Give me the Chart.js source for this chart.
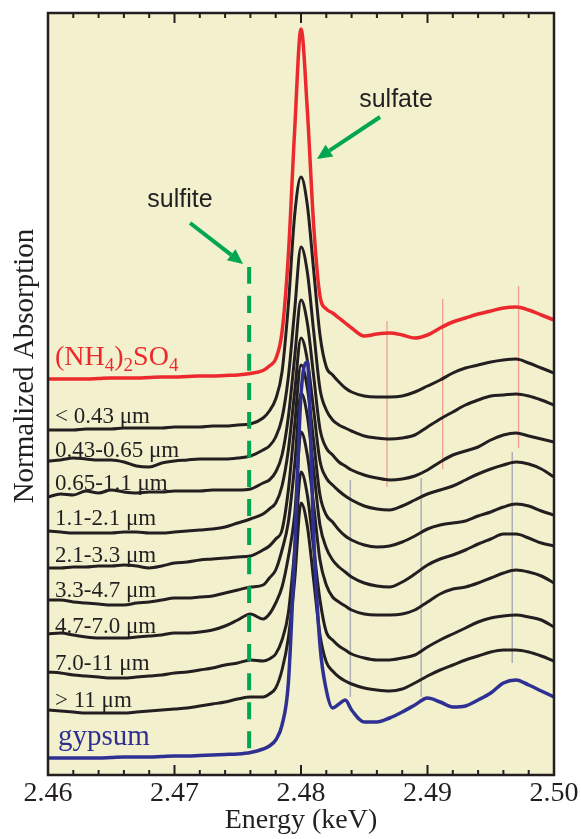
<!DOCTYPE html>
<html>
<head>
<meta charset="utf-8">
<title>Sulfur XANES by particle size</title>
<script src="https://cdn.jsdelivr.net/npm/chart.js@4.4.0/dist/chart.umd.min.js"></script>
<style>
  html, body { margin: 0; padding: 0; background: #fff; }
  canvas { display: block; }
</style>
</head>
<body>
<canvas id="chart" width="581" height="839"></canvas>
<script>
// energy grid (keV), denser around the white line
var energy = [2.460, 2.461, 2.462, 2.463, 2.464, 2.465, 2.466, 2.467, 2.468, 2.469,
  2.470, 2.471, 2.472, 2.473, 2.474, 2.475, 2.476, 2.477, 2.4775, 2.478,
  2.4785, 2.479, 2.4795, 2.480, 2.4805, 2.481, 2.4815, 2.482, 2.4825, 2.483,
  2.4835, 2.484, 2.485, 2.486, 2.487, 2.488, 2.489, 2.490, 2.491, 2.492,
  2.493, 2.494, 2.495, 2.496, 2.497, 2.498, 2.499, 2.500];

// normalized absorption, stacked with offsets (a.u.)
var ammSulfate = [3.96, 3.96, 3.96, 3.96, 3.965, 3.97, 3.97, 3.97, 3.975, 3.98,
  3.98, 3.985, 3.99, 3.99, 3.995, 4.00, 4.015, 4.045, 4.09, 4.16,
  4.43, 5.20, 6.45, 7.46, 6.65, 5.50, 4.79, 4.66, 4.62, 4.57,
  4.52, 4.47, 4.39, 4.41, 4.42, 4.40, 4.37, 4.40, 4.47, 4.53,
  4.57, 4.61, 4.64, 4.67, 4.68, 4.65, 4.60, 4.55];
var s043 = [3.45, 3.45, 3.45, 3.46, 3.46, 3.46, 3.47, 3.47, 3.47, 3.47,
  3.48, 3.48, 3.48, 3.49, 3.49, 3.50, 3.51, 3.57, 3.64, 3.76,
  4.03, 4.70, 5.60, 5.98, 5.70, 5.05, 4.40, 4.08, 4.00, 3.93,
  3.87, 3.83, 3.79, 3.78, 3.78, 3.79, 3.83, 3.89, 3.95, 4.02,
  4.07, 4.10, 4.13, 4.15, 4.16, 4.12, 4.07, 4.02];
var s043065 = [3.14, 3.15, 3.17, 3.16, 3.15, 3.15, 3.13, 3.09, 3.08, 3.12,
  3.14, 3.15, 3.16, 3.16, 3.16, 3.17, 3.19, 3.25, 3.29, 3.38,
  3.57, 3.98, 4.65, 5.28, 5.03, 4.44, 3.86, 3.65, 3.55, 3.50,
  3.47, 3.44, 3.39, 3.37, 3.36, 3.37, 3.40, 3.48, 3.56, 3.63,
  3.70, 3.75, 3.79, 3.80, 3.81, 3.79, 3.75, 3.70];
var s06511 = [2.78, 2.81, 2.80, 2.84, 2.82, 2.85, 2.83, 2.82, 2.83, 2.83,
  2.84, 2.84, 2.84, 2.85, 2.85, 2.85, 2.86, 2.92, 2.95, 3.03,
  3.20, 3.58, 4.18, 4.75, 4.52, 3.99, 3.46, 3.27, 3.20, 3.13,
  3.09, 3.05, 3.00, 2.97, 2.95, 2.96, 2.99, 3.05, 3.13, 3.20,
  3.24, 3.28, 3.35, 3.40, 3.42, 3.39, 3.36, 3.33];
var s1121 = [2.44, 2.43, 2.42, 2.42, 2.42, 2.42, 2.43, 2.43, 2.42, 2.42,
  2.43, 2.44, 2.45, 2.46, 2.48, 2.52, 2.56, 2.61, 2.66, 2.72,
  2.89, 3.25, 3.83, 4.37, 4.15, 3.65, 3.14, 2.97, 2.90, 2.84,
  2.79, 2.75, 2.69, 2.66, 2.65, 2.69, 2.75, 2.81, 2.85, 2.89,
  2.95, 3.01, 3.06, 3.10, 3.13, 3.11, 3.06, 2.98];
var s2133 = [2.07, 2.07, 2.08, 2.08, 2.09, 2.09, 2.10, 2.09, 2.07, 2.09,
  2.12, 2.13, 2.15, 2.16, 2.17, 2.18, 2.19, 2.25, 2.29, 2.36,
  2.45, 2.85, 3.50, 4.10, 3.87, 3.34, 2.80, 2.60, 2.53, 2.45,
  2.39, 2.35, 2.30, 2.28, 2.29, 2.33, 2.39, 2.46, 2.50, 2.52,
  2.54, 2.59, 2.63, 2.68, 2.71, 2.69, 2.64, 2.60];
var s3347 = [1.75, 1.75, 1.73, 1.72, 1.71, 1.70, 1.70, 1.72, 1.73, 1.75,
  1.77, 1.77, 1.78, 1.79, 1.82, 1.85, 1.88, 1.90, 1.97, 2.05,
  2.25, 2.53, 3.10, 3.82, 3.59, 3.05, 2.50, 2.27, 2.15, 2.08,
  2.03, 1.98, 1.92, 1.89, 1.88, 1.93, 2.01, 2.10, 2.16, 2.20,
  2.25, 2.31, 2.36, 2.41, 2.41, 2.37, 2.32, 2.29];
var s4770 = [1.41, 1.42, 1.40, 1.38, 1.37, 1.37, 1.37, 1.38, 1.39, 1.40,
  1.42, 1.42, 1.43, 1.45, 1.49, 1.55, 1.61, 1.56, 1.61, 1.72,
  1.88, 2.18, 2.60, 3.43, 3.20, 2.70, 2.15, 1.90, 1.78, 1.73,
  1.69, 1.65, 1.61, 1.60, 1.60, 1.61, 1.65, 1.73, 1.81, 1.86,
  1.88, 1.92, 1.97, 2.02, 2.05, 2.03, 1.99, 1.92];
var s7011 = [1.03, 1.02, 1.00, 0.99, 0.98, 0.97, 0.97, 0.98, 0.99, 1.00,
  1.02, 1.03, 1.05, 1.07, 1.10, 1.12, 1.15, 1.14, 1.16, 1.21,
  1.35, 1.62, 2.25, 3.03, 2.80, 2.27, 1.75, 1.43, 1.35, 1.29,
  1.25, 1.21, 1.17, 1.15, 1.15, 1.17, 1.20, 1.28, 1.35, 1.41,
  1.47, 1.53, 1.57, 1.59, 1.60, 1.58, 1.55, 1.48];
var s11 = [0.65, 0.64, 0.63, 0.62, 0.62, 0.62, 0.62, 0.63, 0.64, 0.65,
  0.66, 0.67, 0.69, 0.71, 0.73, 0.76, 0.78, 0.78, 0.81, 0.87,
  1.05, 1.37, 1.95, 2.72, 2.49, 1.95, 1.40, 1.13, 1.04, 0.98,
  0.94, 0.91, 0.87, 0.85, 0.84, 0.86, 0.92, 0.99, 1.05, 1.10,
  1.15, 1.19, 1.23, 1.25, 1.25, 1.23, 1.19, 1.14];
var gypsum = [0.17, 0.17, 0.17, 0.17, 0.17, 0.175, 0.18, 0.18, 0.18, 0.185,
  0.19, 0.19, 0.195, 0.20, 0.205, 0.21, 0.225, 0.26, 0.29, 0.35,
  0.50, 0.92, 2.25, 3.80, 4.13, 2.40, 1.30, 0.85, 0.67, 0.71,
  0.75, 0.65, 0.53, 0.53, 0.57, 0.63, 0.70, 0.77, 0.73, 0.68,
  0.69, 0.75, 0.82, 0.92, 0.95, 0.90, 0.84, 0.78];

var sizeSeries = [s043, s043065, s06511, s1121, s2133, s3347, s4770, s7011, s11];
var sizeLabels = ['< 0.43 \u03bcm', '0.43-0.65 \u03bcm', '0.65-1.1 \u03bcm', '1.1-2.1 \u03bcm',
  '2.1-3.3 \u03bcm', '3.3-4.7 \u03bcm', '4.7-7.0 \u03bcm', '7.0-11 \u03bcm', '> 11 \u03bcm'];
var sizeLabelY = [3.52, 3.18, 2.85, 2.50, 2.13, 1.78, 1.42, 1.05, 0.68];

// sulfite marker and the thin feature lines (keV; from/to in a.u.)
var sulfiteE = 2.4759, sulfiteY = [5.08, 0.20];
var sulfateLines = [[2.4868, 4.54, 2.88], [2.4912, 4.76, 3.06], [2.4972, 4.89, 3.27]];
var gypsumLines = [[2.4839, 2.95, 0.78], [2.4895, 2.97, 0.78], [2.4967, 3.23, 1.12]];
var tickLabels = [2.46, 2.47, 2.48, 2.49, 2.50];

var BLACK = '#231f20', RED = '#ec2a2d', BLUE = '#2e3192', GREEN = '#00a651';
var SERIF = '"Liberation Serif", "Times New Roman", serif';
var SANS = '"Liberation Sans", Arial, sans-serif';

function pts(ys) {
  return energy.map(function (e, i) { return { x: e, y: ys[i] }; });
}

var datasets = [];
datasets.push({ data: [{ x: sulfiteE, y: sulfiteY[0] }, { x: sulfiteE, y: sulfiteY[1] }],
  borderColor: GREEN, borderWidth: 4, borderDash: [17, 12], borderCapStyle: 'butt' });
datasets.push({ data: pts(gypsum), borderColor: BLUE, borderWidth: 3.5 });
datasets.push({ data: pts(ammSulfate), borderColor: RED, borderWidth: 3.5 });
sizeSeries.forEach(function (s) {
  datasets.push({ data: pts(s), borderColor: BLACK, borderWidth: 3 });
});
sulfateLines.forEach(function (l) {
  datasets.push({ data: [{ x: l[0], y: l[1] }, { x: l[0], y: l[2] }],
    borderColor: 'rgba(236,42,45,0.4)', borderWidth: 1.3 });
});
gypsumLines.forEach(function (l) {
  datasets.push({ data: [{ x: l[0], y: l[1] }, { x: l[0], y: l[2] }],
    borderColor: 'rgba(90,100,150,0.45)', borderWidth: 1.5 });
});
datasets.forEach(function (d) {
  d.pointRadius = 0;
  d.fill = false;
  d.cubicInterpolationMode = 'monotone';
});

function arrow(c, x1, y1, x2, y2) {
  var ang = Math.atan2(y2 - y1, x2 - x1), len = 15, w = 7;
  var bx = x2 - len * Math.cos(ang), by = y2 - len * Math.sin(ang);
  c.beginPath();
  c.moveTo(x1, y1);
  c.lineTo(bx, by);
  c.stroke();
  c.beginPath();
  c.moveTo(x2, y2);
  c.lineTo(bx + w * Math.sin(ang), by - w * Math.cos(ang));
  c.lineTo(bx - w * Math.sin(ang), by + w * Math.cos(ang));
  c.closePath();
  c.fill();
}

var decor = {
  id: 'decor',
  beforeDatasetsDraw: function (chart) {
    var a = chart.chartArea, c = chart.ctx;
    c.save();
    c.fillStyle = '#f2f0cd';
    c.fillRect(a.left, a.top, a.right - a.left, a.bottom - a.top);
    c.restore();
  },
  afterDatasetsDraw: function (chart) {
    var a = chart.chartArea, c = chart.ctx;
    var xs = chart.scales.x, ys = chart.scales.y;
    c.save();
    // frame and inward ticks
    c.strokeStyle = BLACK;
    c.lineWidth = 2.5;
    c.strokeRect(a.left, a.top, a.right - a.left, a.bottom - a.top);
    c.lineWidth = 2;
    for (var i = 0; i <= 20; i++) {
      var px = xs.getPixelForValue(2.46 + i * 0.002);
      var tl = i % 5 === 0 ? 10 : 5;
      c.beginPath();
      c.moveTo(px, a.bottom); c.lineTo(px, a.bottom - tl);
      c.moveTo(px, a.top); c.lineTo(px, a.top + tl);
      c.stroke();
    }
    // arrows
    c.strokeStyle = GREEN; c.fillStyle = GREEN; c.lineWidth = 4;
    arrow(c, xs.getPixelForValue(2.47123), ys.getPixelForValue(5.52),
      xs.getPixelForValue(2.47542), ys.getPixelForValue(5.11));
    arrow(c, xs.getPixelForValue(2.48625), ys.getPixelForValue(6.58),
      xs.getPixelForValue(2.48126), ys.getPixelForValue(6.16));
    c.fillStyle = BLACK;
    c.font = '25px ' + SANS;
    c.textAlign = 'center';
    c.textBaseline = 'alphabetic';
    c.fillText('sulfite', xs.getPixelForValue(2.47043), ys.getPixelForValue(5.68));
    c.fillText('sulfate', xs.getPixelForValue(2.48751), ys.getPixelForValue(6.68));
    // curve labels
    c.textAlign = 'left';
    c.font = '23px ' + SERIF;
    sizeLabels.forEach(function (t, k) {
      c.fillText(t, a.left + 7, ys.getPixelForValue(sizeLabelY[k]));
    });
    c.fillStyle = BLUE;
    c.font = '29px ' + SERIF;
    c.fillText('gypsum', a.left + 10, ys.getPixelForValue(0.30));
    c.fillStyle = RED;
    var x0 = a.left + 7, yb = ys.getPixelForValue(4.10);
    var parts = [['(NH', 0], ['4', 1], [')', 0], ['2', 1], ['SO', 0], ['4', 1]];
    parts.forEach(function (p) {
      c.font = (p[1] ? '19px ' : '28px ') + SERIF;
      c.fillText(p[0], x0, yb + (p[1] ? 6 : 0));
      x0 += c.measureText(p[0]).width;
    });
    // y title
    c.fillStyle = BLACK;
    c.font = '29px ' + SERIF;
    c.textAlign = 'center';
    c.translate(33, ys.getPixelForValue(4.09));
    c.rotate(-Math.PI / 2);
    c.fillText('Normalized Absorption', 0, 0);
    c.restore();
  }
};

new Chart(document.getElementById('chart').getContext('2d'), {
  type: 'line',
  data: { datasets: datasets },
  options: {
    responsive: false,
    animation: false,
    events: [],
    layout: { padding: { left: 48, top: 13, right: 27, bottom: 0 } },
    plugins: { legend: { display: false }, tooltip: { enabled: false } },
    scales: {
      x: {
        type: 'linear', min: 2.46, max: 2.50,
        grid: { display: false, drawTicks: false },
        border: { display: false },
        afterBuildTicks: function (s) { s.ticks = tickLabels.map(function (v) { return { value: v }; }); },
        afterFit: function (s) { s.height = 64; },
        ticks: {
          padding: 2, color: BLACK, maxRotation: 0,
          font: { family: SERIF, size: 28 },
          callback: function (v) { return v.toFixed(2); }
        },
        title: {
          display: true, text: 'Energy (keV)', color: BLACK,
          font: { family: SERIF, size: 28 }, padding: { top: 0, bottom: 2 }
        }
      },
      y: { display: false, min: 0, max: 7.62 }
    }
  },
  plugins: [decor]
});
</script>
</body>
</html>
